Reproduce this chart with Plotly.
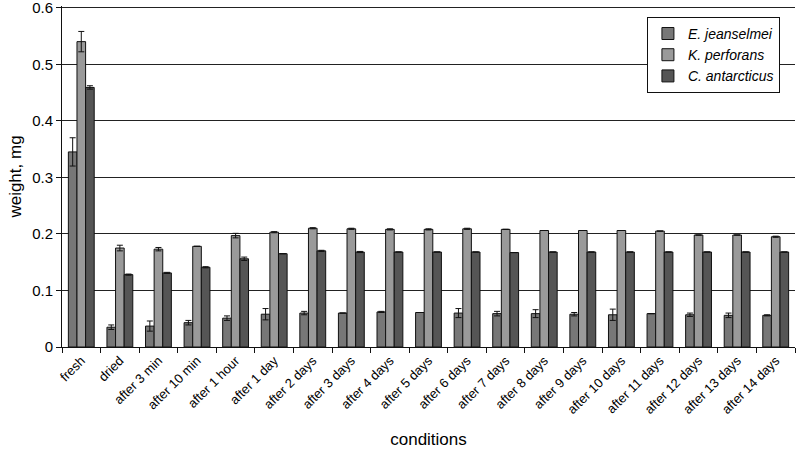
import plotly.graph_objects as go

conditions = ["fresh", "dried", "after 3 min", "after 10 min", "after 1 hour", "after 1 day",
              "after 2 days", "after 3 days", "after 4 days", "after 5 days", "after 6 days",
              "after 7 days", "after 8 days", "after 9 days", "after 10 days", "after 11 days",
              "after 12 days", "after 13 days", "after 14 days"]

e_jeanselmei = [0.345, 0.035, 0.037, 0.043, 0.051, 0.058, 0.060, 0.060, 0.062, 0.061, 0.060,
                0.059, 0.059, 0.058, 0.057, 0.059, 0.057, 0.056, 0.056]
e_jeanselmei_err = [0.025, 0.004, 0.009, 0.004, 0.004, 0.010, 0.003, 0.0, 0.001, 0.0, 0.008,
                    0.004, 0.007, 0.003, 0.010, 0.0, 0.003, 0.004, 0.001]

k_perforans = [0.540, 0.175, 0.173, 0.178, 0.197, 0.203, 0.210, 0.209, 0.208, 0.208, 0.209,
               0.208, 0.206, 0.206, 0.206, 0.205, 0.198, 0.198, 0.195]
k_perforans_err = [0.018, 0.005, 0.003, 0.0, 0.004, 0.001, 0.001, 0.001, 0.001, 0.001, 0.001,
                   0.0, 0.0, 0.0, 0.0, 0.0, 0.0, 0.0, 0.001]

c_antarcticus = [0.459, 0.128, 0.131, 0.141, 0.156, 0.165, 0.170, 0.168, 0.168, 0.168, 0.168,
                 0.167, 0.168, 0.168, 0.168, 0.168, 0.168, 0.168, 0.168]
c_antarcticus_err = [0.003, 0.001, 0.001, 0.001, 0.003, 0.0, 0.001, 0.001, 0.0, 0.0, 0.0,
                     0.0, 0.0, 0.0, 0.0, 0.0, 0.0, 0.0, 0.0]

series = [
    ("<i>E. jeanselmei</i>", e_jeanselmei, e_jeanselmei_err, "#777777"),
    ("<i>K. perforans</i>", k_perforans, k_perforans_err, "#9a9a9a"),
    ("<i>C. antarcticus</i>", c_antarcticus, c_antarcticus_err, "#555555"),
]

fig = go.Figure()
for name, vals, errs, col in series:
    fig.add_trace(go.Bar(
        x=conditions, y=vals, name=name,
        marker=dict(color=col, line=dict(color="#111111", width=1)),
        error_y=dict(type="data", array=errs, visible=True, color="#111111",
                     thickness=1, width=3),
    ))

fig.update_layout(
    width=796, height=458,
    margin=dict(l=62, r=1, t=6, b=111, autoexpand=False),
    paper_bgcolor="white", plot_bgcolor="white",
    barmode="group", bargap=0.33, bargroupgap=0,
    font=dict(family="Arial, Liberation Sans, sans-serif", color="#000000"),
    showlegend=True,
    legend=dict(x=0.798, y=0.968, xanchor="left", yanchor="top",
                bgcolor="white", bordercolor="#111111", borderwidth=1,
                font=dict(size=14), tracegroupgap=6, itemwidth=30),
    xaxis=dict(
        title=dict(text="conditions", font=dict(size=17), standoff=17),
        tickangle=-45, tickfont=dict(size=13, color="#000000"),
        showline=True, linecolor="#111111", linewidth=1,
        ticks="outside", ticklen=5, tickcolor="#111111",
        tickson="boundaries", showgrid=False, automargin=False,
    ),
    yaxis=dict(
        title=dict(text="weight, mg", font=dict(size=17), standoff=6),
        range=[0, 0.603], dtick=0.1, tickformat="~g",
        tickfont=dict(size=15), ticklabeloverflow="allow",
        showline=True, linecolor="#111111", linewidth=1,
        ticks="outside", ticklen=5, tickcolor="#111111",
        showgrid=True, gridcolor="#222222", gridwidth=1,
        zeroline=False, automargin=False,
    ),
)

fig.write_html("out.html", post_script="document.body.style.margin='0';",
               config={"displayModeBar": False})
